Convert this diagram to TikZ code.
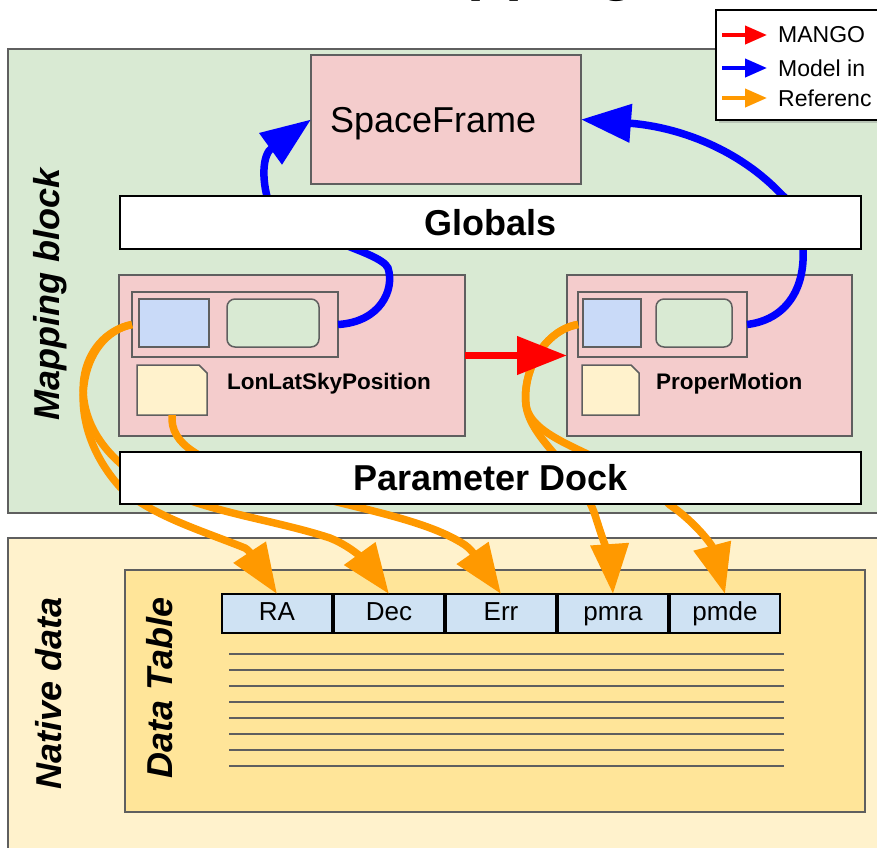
\documentclass[tikz,border=0pt]{standalone}
\usepackage{fontspec}
\setmainfont{Liberation Sans}
\usetikzlibrary{arrows.meta, positioning, shadows}

\definecolor{mapgreen}{HTML}{D9EAD3}
\definecolor{nativeyel}{HTML}{FFF2CC}
\definecolor{tableyel}{HTML}{FFE599}
\definecolor{clspink}{HTML}{F4CCCC}
\definecolor{attrblue}{HTML}{C9DAF8}
\definecolor{colblue}{HTML}{CFE2F3}
\definecolor{edgegray}{HTML}{5F5F5F}
\definecolor{refor}{HTML}{FF9900}

\tikzset{
  region/.style={rectangle, draw=edgegray, line width=1.5pt, inner sep=0pt,
                 outer sep=0pt, anchor=north west},
  clsbox/.style={region, fill=clspink},
  frm/.style={region, minimum height=65pt},
  attrbox/.style={region, fill=attrblue, minimum height=48pt},
  instbox/.style={region, fill=mapgreen, rounded corners=8pt, minimum height=48pt},
  docbox/.style={rectangle, inner sep=0pt, outer sep=0pt, minimum height=50pt, anchor=north west},
  docline/.style={draw=edgegray, line width=1.5pt, fill=nativeyel},
  clsname/.style={anchor=west, inner sep=0pt, font=\fontsize{22.5}{26}\selectfont\bfseries},
  bar/.style={rectangle, draw=black, line width=2pt, fill=white, anchor=north west,
              minimum width=741pt, font=\fontsize{36}{40}\selectfont\bfseries},
  colhead/.style={rectangle, draw=black, line width=1.5pt, fill=colblue,
                  minimum width=110pt, minimum height=39pt, inner sep=0pt,
                  outer sep=0pt, text height=19pt, text depth=5pt,
                  font=\fontsize{26}{28}\selectfont},
  sidelbl/.style={rotate=90, inner sep=0pt, font=\fontsize{36}{40}\selectfont\bfseries\itshape},
  link/.style={line width=7.5pt, -{Triangle[length=50pt, width=37pt]}},
  mango/.style={link, red},
  modref/.style={link, blue},
  colref/.style={link, refor},
  rowline/.style={draw=edgegray, line width=2pt},
  legbox/.style={rectangle, draw=black, line width=2pt, fill=white, anchor=north west,
                 minimum width=180pt, minimum height=110pt,
                 drop shadow={shadow xshift=3pt, shadow yshift=-3pt, opacity=0.35}},
  legtxt/.style={anchor=west, inner sep=0pt, font=\fontsize{23}{26}\selectfont},
  legarr/.style={line width=4pt, -{Triangle[length=22pt, width=18pt]}},
}

\begin{document}
\begin{tikzpicture}[x=1pt, y=-1pt]
  \useasboundingbox (0,0) rectangle (877,847);

  % the two blocks
  \node[region, fill=mapgreen, minimum width=890pt, minimum height=464pt] (mapBlock) at (8,49) {};
  \node[region, fill=nativeyel, minimum width=890pt, minimum height=330pt] (natBlock) at (8,538) {};
  \node[sidelbl] (mapLbl) at (50,294) {Mapping block};
  \node[sidelbl] (natLbl) at (49,693) {Native data};

  % data table
  \node[region, fill=tableyel, minimum width=740pt, minimum height=242pt] (dtable) at (125,570) {};
  \node[sidelbl] (dtLbl) at (160,688) {Data Table};
  \node[colhead] (ra) at (277,613.5) {RA};
  \node[colhead, right=2pt of ra] (dec) {Dec};
  \node[colhead, right=2pt of dec] (err) {Err};
  \node[colhead, right=2pt of err] (pmra) {pmra};
  \node[colhead, right=2pt of pmra] (pmde) {pmde};
  \draw[rowline] (229,654) -- (784,654) (229,670) -- (784,670) (229,686) -- (784,686)
    (229,702) -- (784,702) (229,718) -- (784,718) (229,734) -- (784,734)
    (229,750) -- (784,750) (229,766) -- (784,766);

  % frame and classes
  \node[clsbox, minimum width=270pt, minimum height=129pt, text width=232pt, align=left,
        text depth=0pt, font=\fontsize{36}{40}\selectfont] (sFrame) at (311,55) {SpaceFrame};

  \node[clsbox, minimum width=346pt, minimum height=161pt] (lsCls) at (119,275) {};
  \node[frm, minimum width=206pt] (lsFrame) at (132,292) {};
  \node[attrbox, minimum width=70pt] (lsAttr) at (139,299) {};
  \node[instbox, minimum width=92pt, right=18pt of lsAttr] (lsInst) {};
  \node[docbox, minimum width=70pt] (lsDoc) at (137,365) {};
  \draw[docline] (lsDoc.north west) -- ([xshift=-8pt]lsDoc.north east)
    -- ([yshift=-8pt]lsDoc.north east) -- (lsDoc.south east) -- (lsDoc.south west) -- cycle;
  \node[clsname] (lsName) at (227,384) {LonLatSkyPosition};

  \node[clsbox, minimum width=285pt, minimum height=161pt] (pmCls) at (567,275) {};
  \node[frm, minimum width=169pt] (pmFrame) at (578,292) {};
  \node[attrbox, minimum width=58pt] (pmAttr) at (583,299) {};
  \node[instbox, minimum width=76pt, right=15pt of pmAttr] (pmInst) {};
  \node[docbox, minimum width=57pt] (pmDoc) at (582,365) {};
  \draw[docline] (pmDoc.north west) -- ([xshift=-8pt]pmDoc.north east)
    -- ([yshift=-8pt]pmDoc.north east) -- (pmDoc.south east) -- (pmDoc.south west) -- cycle;
  \node[clsname] (pmName) at (656,384) {ProperMotion};

  % references to the columns
  \draw[colref] (lsFrame.west) .. controls (80,335) and (60,420) .. (120,487)
    .. controls (150,515) and (200,530) .. (245,548) .. controls (252,552) and (258,565) .. (ra.north);
  \draw[colref] (lsFrame.west) .. controls (80,335) and (60,410) .. (120,463)
    .. controls (175,510) and (260,515) .. (330,538) .. controls (355,548) and (368,565) .. (dec.north);
  \draw[colref] (lsDoc.south) .. controls (170,445) and (200,460) .. (260,480)
    .. controls (330,505) and (420,515) .. (465,545) .. controls (474,551) and (483,568) .. (err.north);
  \draw[colref] (pmFrame.west) .. controls (545,330) and (522,370) .. (526,405)
    .. controls (530,440) and (580,470) .. (595,515) .. controls (603,540) and (611,565) .. (pmra.north);
  \draw[colref] (pmFrame.west) .. controls (545,330) and (522,370) .. (526,405)
    .. controls (532,445) and (620,455) .. (670,505) .. controls (695,522) and (712,545) .. (pmde.north);

  \draw[mango] (lsCls) -- (pmCls);

  % model instances up to the frame
  \draw[modref] (lsFrame.east) .. controls (380,322) and (395,290) .. (388,268)
    .. controls (380,250) and (290,235) .. (268,200) .. controls (262,180) and (262,155) .. (sFrame.west);
  \draw[modref] (pmFrame.east) .. controls (785,320) and (805,290) .. (803,250)
    .. controls (802,225) and (795,205) .. (782,195) .. controls (740,150) and (680,127) .. (sFrame.east);

  \node[bar, minimum height=53pt] (globals) at (119,195) {Globals};
  \node[bar, minimum height=52pt] (dock) at (119,451) {Parameter Dock};

  % legend
  \node[legbox] (legend) at (715,9) {};
  \node[legtxt] (lgMango) at (778,35) {MANGO};
  \node[legtxt] (lgModel) at (778,68) {Model in};
  \node[legtxt] (lgRef) at (778,98) {Referenc};
  \coordinate (lgMangoS) at (722,35);
  \coordinate (lgModelS) at (722,68);
  \coordinate (lgRefS) at (722,98);
  \draw[legarr, red] (lgMangoS) -- ([xshift=-11pt]lgMango.west);
  \draw[legarr, blue] (lgModelS) -- ([xshift=-11pt]lgModel.west);
  \draw[legarr, refor] (lgRefS) -- ([xshift=-11pt]lgRef.west);

  \node[anchor=base west, inner sep=0pt, font=\fontsize{62}{70}\selectfont\bfseries] (ttl) at (381,-12) {Mapping};
\end{tikzpicture}
\end{document}
